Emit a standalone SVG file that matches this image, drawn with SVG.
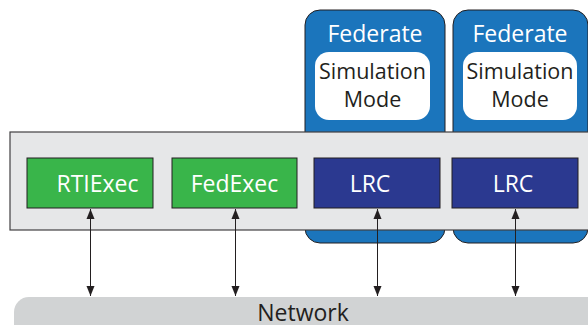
<svg xmlns="http://www.w3.org/2000/svg" width="588" height="325" viewBox="0 0 588 325">
  <style>
    text { font-family: "Open Sans", "Liberation Sans", sans-serif; text-anchor: middle; }
    .fed { fill: #1b75bc; stroke: #231f20; stroke-width: 1; }
    .mode { fill: #ffffff; }
    .panel { fill: #e6e7e8; stroke: #414042; stroke-width: 1.2; }
    .green { fill: #39b54a; stroke: #231f20; stroke-width: 1; }
    .blue { fill: #2b3990; stroke: #231f20; stroke-width: 1; }
    .net { fill: #d1d3d4; }
    .lbl { fill: #ffffff; font-size: 23px; }
    .dark { fill: #231f20; font-size: 21.5px; }
    .link { stroke: #231f20; stroke-width: 1; fill: none; marker-start: url(#head); marker-end: url(#head); }
  </style>
  <defs>
    <marker id="head" viewBox="0 0 10 10" refX="10" refY="5" markerWidth="11" markerHeight="10" markerUnits="userSpaceOnUse" orient="auto-start-reverse">
      <path d="M0,1 L10,5 L0,9 Z" fill="#231f20"/>
    </marker>
  </defs>

  <!-- federates behind the RTI panel -->
  <g id="federate1">
    <rect class="fed" x="305" y="10" width="140" height="233" rx="15"/>
    <text class="lbl" x="375" y="42">Federate</text>
    <rect class="mode" x="315" y="52" width="115" height="68" rx="14"/>
    <text class="dark" x="372.5" y="79">Simulation</text>
    <text class="dark" x="372.5" y="107">Mode</text>
  </g>
  <g id="federate2">
    <rect class="fed" x="453" y="10" width="135" height="233" rx="15"/>
    <text class="lbl" x="520" y="42">Federate</text>
    <rect class="mode" x="463" y="52" width="114" height="68" rx="14"/>
    <text class="dark" x="520" y="79">Simulation</text>
    <text class="dark" x="520" y="107">Mode</text>
  </g>

  <!-- RTI panel -->
  <g id="rti">
    <rect class="panel" x="10" y="132" width="590" height="98"/>
  </g>
  <g id="rtiexec">
    <rect class="green" x="27" y="158" width="126" height="50"/>
    <text class="lbl" x="97.5" y="192">RTIExec</text>
  </g>
  <g id="fedexec">
    <rect class="green" x="172" y="158" width="125" height="50"/>
    <text class="lbl" x="234.5" y="192">FedExec</text>
  </g>
  <g id="lrc1">
    <rect class="blue" x="314" y="158" width="126" height="50"/>
    <text class="lbl" x="370" y="192">LRC</text>
  </g>
  <g id="lrc2">
    <rect class="blue" x="452" y="158" width="126" height="50"/>
    <text class="lbl" x="513" y="192">LRC</text>
  </g>

  <!-- network bus -->
  <g id="network">
    <rect class="net" x="14" y="297" width="600" height="50" rx="15"/>
    <text class="dark" x="303" y="321" style="font-size:23px">Network</text>
  </g>

  <!-- links between components and the network -->
  <g id="connectors">
    <line class="link" x1="90.5" y1="209" x2="90.5" y2="296"/>
    <line class="link" x1="235.5" y1="209" x2="235.5" y2="296"/>
    <line class="link" x1="377.5" y1="209" x2="377.5" y2="296"/>
    <line class="link" x1="515.5" y1="209" x2="515.5" y2="296"/>
  </g>
</svg>
